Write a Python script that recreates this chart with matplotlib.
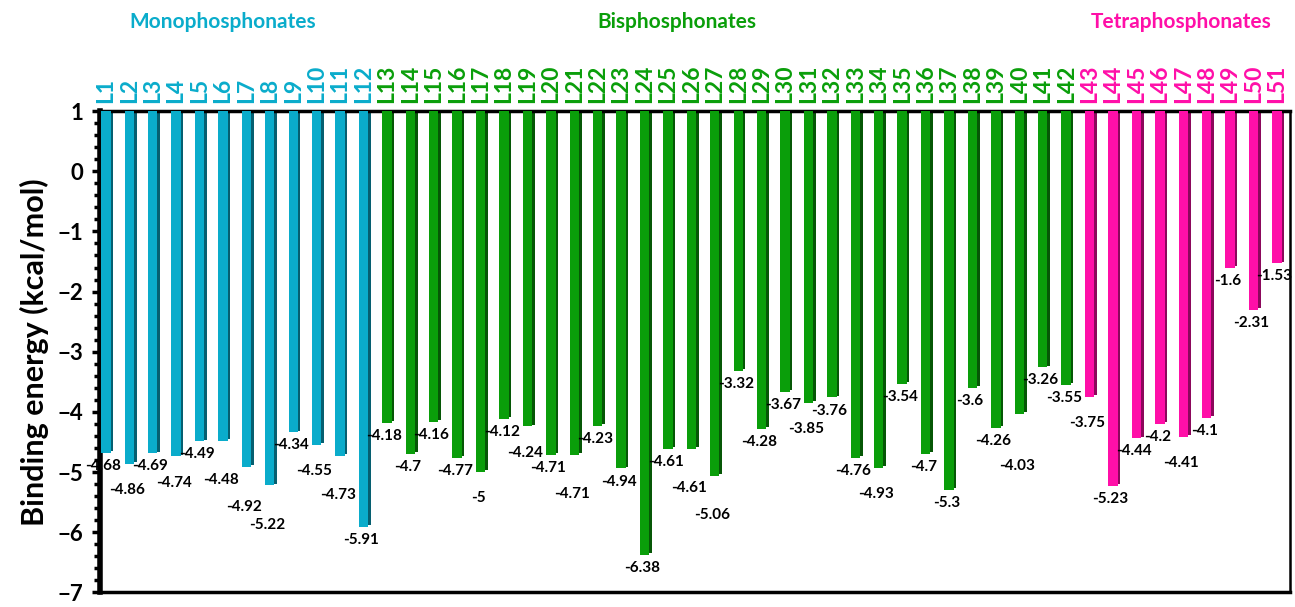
import numpy as np
import matplotlib
matplotlib.use("Agg")
import matplotlib.pyplot as plt
import matplotlib.colors as mcolors
from matplotlib.ticker import MultipleLocator

plt.rcParams['font.family'] = ['Lato', 'DejaVu Sans']

# binding energies (kcal/mol)
mono = [-4.68, -4.86, -4.69, -4.74, -4.49, -4.48, -4.92, -5.22, -4.34, -4.55, -4.73, -5.91]
bis = [-4.18, -4.7, -4.16, -4.77, -5, -4.12, -4.24, -4.71, -4.71, -4.23, -4.94, -6.38,
       -4.61, -4.61, -5.06, -3.32, -4.28, -3.67, -3.85, -3.76, -4.76, -4.93, -3.54,
       -4.7, -5.3, -3.6, -4.26, -4.03, -3.26, -3.55]
tetra = [-3.75, -5.23, -4.44, -4.2, -4.41, -4.1, -1.6, -2.31, -1.53]

groups = ['Monophosphonates', 'Bisphosphonates', 'Tetraphosphonates']
group_colors = ['#0AACCB', '#0A9E0A', '#FF0FA8']

values = mono + bis + tetra
labels = ['L%d' % (i + 1) for i in range(len(values))]
colors = ([group_colors[0]] * len(mono) + [group_colors[1]] * len(bis)
          + [group_colors[2]] * len(tetra))

fig = plt.figure(figsize=(12.95, 6.07), dpi=100)
ax = fig.add_axes([0.0772, 0.024, 0.9188, 0.793])

x = np.arange(len(values))
top = 1
vals = np.array(values)
dark = [tuple(c * 0.55 for c in mcolors.to_rgb(col)) for col in colors]

# 3D-ish bars hanging from the top axis: front face + darker side
ax.bar(x + 0.25, top - vals, bottom=vals + 0.03, width=0.12, color=dark, zorder=2)
ax.bar(x, top - vals, bottom=vals, width=0.40, color=colors, zorder=3)

ax.set_xlim(-0.25, len(values) - 0.45)
ax.set_ylim(-7, 1)

# data labels under the bar ends, pushed down when they would collide
fig.canvas.draw()
renderer = fig.canvas.get_renderer()
placed = []
for xi, v in zip(x, values):
    y = v - 0.1
    t = ax.text(xi - 0.1, y, '%g' % v, ha='center', va='top', fontsize=11,
                fontweight='bold', color='black', zorder=4)
    for _ in range(6):
        bb = t.get_window_extent(renderer).expanded(1.02, 1.0)
        if not any(bb.overlaps(p) for p in placed):
            break
        y -= 0.22
        t.set_y(y)
    placed.append(t.get_window_extent(renderer))

ax.yaxis.set_major_locator(MultipleLocator(1))
ax.yaxis.set_minor_locator(MultipleLocator(0.2))
ax.tick_params(axis='y', which='major', length=6, width=2.5, labelsize=16, pad=6)
ax.tick_params(axis='y', which='minor', length=4, width=2.5)
for t in ax.get_yticklabels():
    t.set_fontweight('bold')

ax.xaxis.tick_top()
ax.set_xticks(x)
ax.set_xticklabels(labels, rotation=90, fontsize=16.5, fontweight='bold')
ax.tick_params(axis='x', length=0, pad=6)
for t, c in zip(ax.get_xticklabels(), colors):
    t.set_color(c)

ax.spines['left'].set_linewidth(4)
ax.spines['top'].set_linewidth(2.5)
ax.spines['bottom'].set_linewidth(2.5)
ax.spines['right'].set_linewidth(1.8)

ax.set_ylabel('Binding energy (kcal/mol)', fontsize=22, fontweight='bold', labelpad=6)

# group titles above the category labels
group_centers = [5.0, 24.4, 45.9]
for name, col, xc in zip(groups, group_colors, group_centers):
    ax.text(xc, 1.185, name, transform=ax.get_xaxis_transform(), ha='center',
            va='center', fontsize=15, fontweight='bold', color=col)

fig.savefig('out.png', dpi=100)
